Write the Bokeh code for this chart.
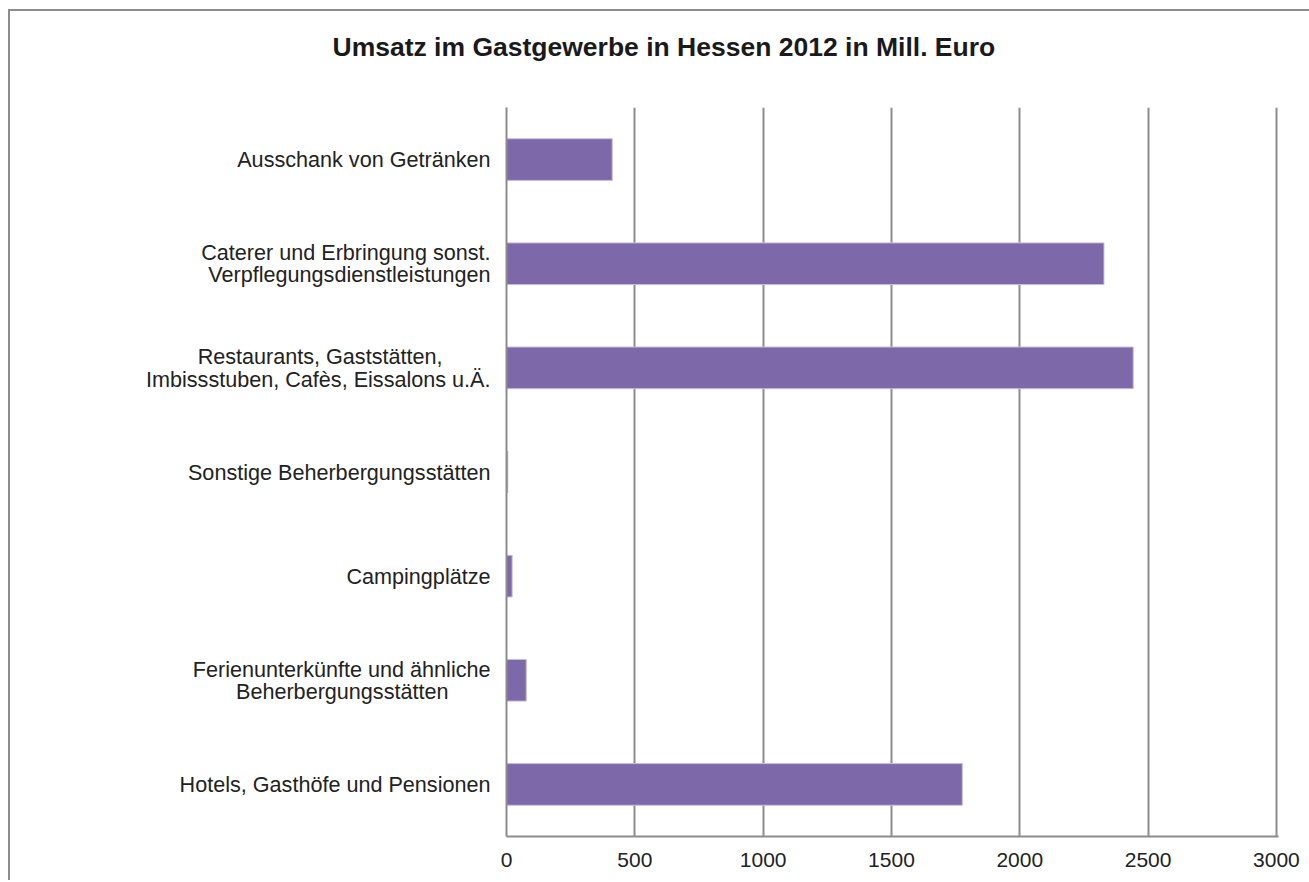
from bokeh.plotting import figure
from bokeh.models import Range1d, FactorRange, FixedTicker, Title
from bokeh.embed import file_html
from bokeh.resources import INLINE

categories = [
    "Hotels, Gasthöfe und Pensionen",
    "Ferienunterkünfte und ähnliche\nBeherbergungsstätten       ",
    "Campingplätze",
    "Sonstige Beherbergungsstätten",
    "Restaurants, Gaststätten,        \nImbissstuben, Cafès, Eissalons u.Ä.",
    "Caterer und Erbringung sonst.\nVerpflegungsdienstleistungen",
    "Ausschank von Getränken",
]
values = [1776, 77, 22, 5, 2442, 2328, 412]
x_ticks = [0, 500, 1000, 1500, 2000, 2500, 3000]
title_text = "Umsatz im Gastgewerbe in Hessen 2012 in Mill. Euro"

FONT = "Liberation Sans"
GRAY = "#8c8c8c"

p = figure(
    y_range=FactorRange(*categories, range_padding=0),
    x_range=Range1d(0, 3008),
    frame_width=772, frame_height=729,
    min_border_left=496, min_border_right=31,
    min_border_top=96, min_border_bottom=44,
    output_backend="svg", toolbar_location=None,
    styles={"border-left": "2px solid #8c8c8c", "border-top": "2px solid #8c8c8c",
            "margin-left": "8px", "margin-top": "9px"},
)

# spacer between frame and title (first item in "above" sits nearest the frame)
p.add_layout(Title(text=" ", text_font_size="1px", standoff=43), "above")
p.add_layout(Title(text=title_text, align="left", offset=-174, standoff=0,
                   text_font_size="26.5px", text_font_style="bold",
                   text_font=FONT, text_color="#1a1a1a"), "above")

p.hbar(y=categories, right=values, height=0.4,
       fill_color="#7d68a9", line_color="#c8bedd", line_width=1)

p.outline_line_color = None
p.ygrid.grid_line_color = None
p.xgrid.ticker = FixedTicker(ticks=x_ticks)
p.xgrid.grid_line_color = GRAY
p.xgrid.grid_line_width = 2

p.xaxis.ticker = FixedTicker(ticks=x_ticks)
for ax in (p.xaxis, p.yaxis):
    ax.axis_line_color = GRAY
    ax.axis_line_width = 2
    ax.major_tick_out = 0
    ax.major_tick_in = 0
    ax.minor_tick_out = 0
    ax.minor_tick_in = 0
    ax.major_label_text_font = FONT
    ax.major_label_text_color = "#222222"
p.xaxis.major_label_text_font_size = "21px"
p.yaxis.major_label_text_font_size = "21.6px"
p.yaxis.major_label_text_line_height = 0.9
p.xaxis.major_label_standoff = 16
p.yaxis.major_label_standoff = 16

open("out.html", "w").write(file_html(p, INLINE))
